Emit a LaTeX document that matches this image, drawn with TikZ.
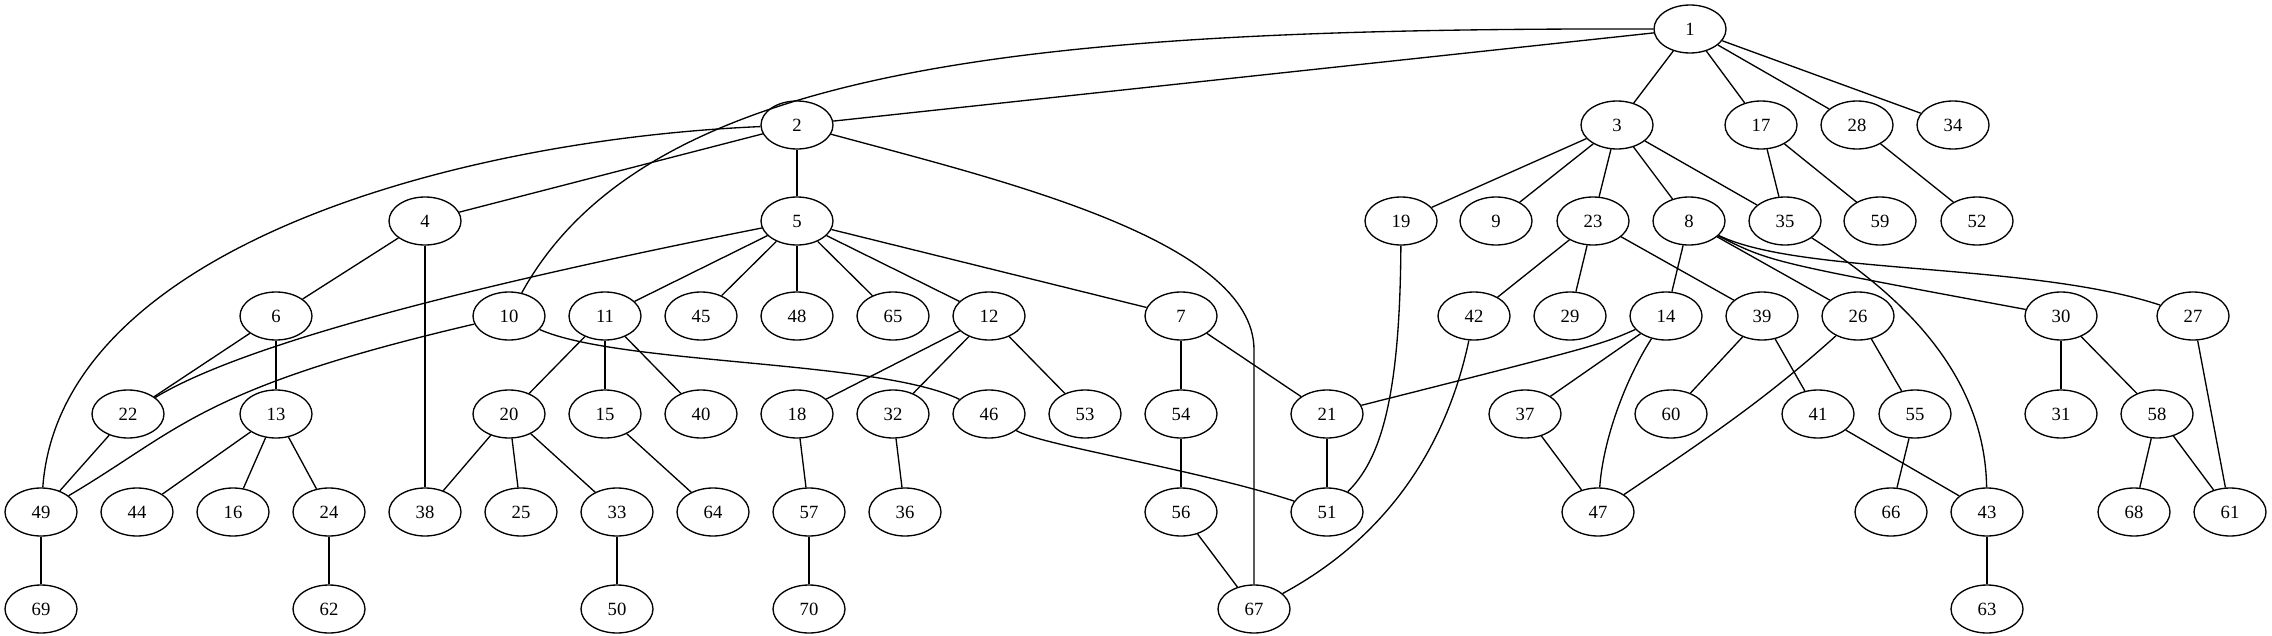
\documentclass[tikz,border=0pt]{standalone}
\usepackage{fontspec}
\setmainfont{Liberation Serif}
\usetikzlibrary{shapes.geometric}
\begin{document}
\begin{tikzpicture}[x=0.75pt,y=-0.75pt,
  gnode/.style={draw,ellipse,minimum width=54pt,minimum height=36pt,inner sep=0pt,line width=1pt,font=\fontsize{14pt}{16pt}\selectfont},
  edge/.style={line width=1pt}]
\useasboundingbox (0,0) rectangle (2272,635);
\foreach \n/\x/\y in {1/1690/29,2/797/125,3/1617/125,17/1761/125,28/1857/125,34/1953/125,
 4/425/221,5/797/221,19/1401/221,9/1496/221,23/1593/221,8/1689/221,35/1785/221,59/1880/221,52/1977/221,
 6/276/316,10/509/316,11/605/316,45/701/316,48/797/316,65/893/316,12/989/316,7/1181/316,42/1474/316,29/1570/316,14/1666/316,39/1762/316,26/1858/316,30/2061/316,27/2193/316,
 22/128/414,13/276/414,20/509/414,15/605/414,40/701/414,18/797/414,32/893/414,46/989/414,53/1085/414,54/1181/414,21/1327/414,37/1525/414,60/1671/414,41/1818/414,55/1915/414,31/2061/414,58/2157/414,
 49/41/512,44/137/512,16/233/512,24/329/512,38/425/512,25/521/512,33/617/512,64/713/512,57/809/512,36/905/512,56/1181/512,51/1327/512,47/1598/512,66/1891/512,43/1987/512,68/2134/512,61/2230/512,
 69/41/609,62/329/609,50/617/609,70/809/609,67/1254/609,63/1987/609}
 {\node[gnode] (n\n) at (\x,\y) {\n};}
% straight edges
\foreach \a/\b in {1/2,1/3,1/17,1/28,1/34,2/4,2/5,3/19,3/9,3/23,3/8,3/35,17/35,17/59,28/52,
 4/6,4/38,5/11,5/45,5/48,5/65,5/12,5/7,6/22,6/13,11/20,11/15,11/40,12/18,12/32,12/53,7/54,7/21,
 23/42,23/29,23/39,8/14,8/26,14/37,39/60,39/41,26/55,30/31,30/58,27/61,22/49,13/44,13/16,13/24,
 20/38,20/25,20/33,15/64,18/57,32/36,54/56,21/51,37/47,41/43,55/66,58/68,58/61,49/69,24/62,33/50,57/70,56/67,43/63}
 {\draw[edge] (n\a) -- (n\b);}
% curved edges
\draw[edge] (n1) .. controls (1050,28) and (650,60) .. (n10);
\draw[edge] (n2) .. controls (450,140) and (60,250) .. (n49);
\draw[edge] (n2) .. controls (1000,180) and (1254,240) .. (1254,350) -- (n67);
\draw[edge] (n5) .. controls (500,280) and (250,340) .. (n22);
\draw[edge] (n10) .. controls (200,388) and (180,430) .. (n49);
\draw[edge] (n10) .. controls (620,365) and (880,360) .. (n46);
\draw[edge] (n46) .. controls (1040,445) and (1200,470) .. (n51);
\draw[edge] (n19) .. controls (1400,400) and (1380,460) .. (n51);
\draw[edge] (n42) .. controls (1450,430) and (1400,530) .. (n67);
\draw[edge] (n14) .. controls (1600,345) .. (n21);
\draw[edge] (n14) .. controls (1625,380) and (1603,440) .. (n47);
\draw[edge] (n26) .. controls (1770,395) and (1720,430) .. (n47);
\draw[edge] (n35) .. controls (1910,300) and (1985,380) .. (n43);
\draw[edge] (n8) .. controls (1770,262) .. (n30);
\draw[edge] (n8) .. controls (1800,275) and (2030,262) .. (n27);
\end{tikzpicture}
\end{document}
